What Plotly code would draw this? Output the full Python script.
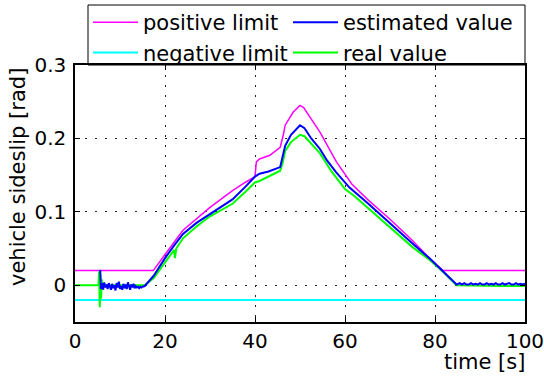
import plotly.graph_objects as go

# ---------------- data ----------------
# real value (green)
real_time = [0, 5.2, 5.35, 5.5, 5.65, 5.8, 5.95, 6.1, 6.3, 6.6,
             7.0, 15.5, 17.5, 20, 22, 22.2, 22.5, 24, 27, 30,
             33, 35, 38, 40, 41, 43, 45.6, 46.2, 46.7, 48,
             50, 51, 52.5, 54.4, 57, 60, 62, 65, 70, 75,
             78.9, 82, 84.8, 90, 95, 100]
real_value = [0, 0, 0.019, -0.030, 0.015, -0.018, 0.008, -0.006, 0.003, -0.001,
              0, 0, 0.010, 0.032, 0.048, 0.037, 0.050, 0.064, 0.080, 0.094,
              0.104, 0.111, 0.128, 0.140, 0.142, 0.148, 0.156, 0.168, 0.183, 0.195,
              0.205, 0.203, 0.193, 0.180, 0.155, 0.131, 0.122, 0.106, 0.078, 0.052,
              0.034, 0.017, 0, -0.001, -0.001, -0.001]

# estimated value (blue): start (noisy), ramp, end (noisy)
est_time_start = [5.6, 5.75, 6.0, 6.25, 6.5, 6.75, 7.0, 7.25, 7.5, 7.75,
                  8.0, 8.25, 8.5, 8.75, 9.0, 9.25, 9.5, 9.75, 10.0, 10.25,
                  10.5, 10.75, 11.0, 11.25, 11.5, 11.75, 12.0, 12.25, 12.5, 12.75,
                  13.0, 13.25, 13.5, 13.75, 14.0, 14.25, 14.5, 14.75, 15.0, 15.5]
est_value_start = [0.021, -0.005, 0.003, -0.006, 0.004, -0.003, 0.001, -0.005, 0.003, -0.002,
                   -0.006, 0.002, -0.004, 0.000, -0.007, 0.003, -0.003, 0.005, -0.005, -0.001,
                   -0.006, 0.002, -0.004, 0.001, -0.005, 0.004, -0.002, -0.006, 0.001, -0.003,
                   0.002, -0.004, -0.001, -0.003, -0.002, -0.004, -0.002, -0.003, -0.002, -0.001]
est_time_ramp = [17.5, 20, 22, 24, 27, 30, 33, 35, 38, 40,
                 41, 43, 45.6, 46.2, 46.7, 48, 50, 51, 52.5, 54.4,
                 56, 58, 60, 61, 65, 70, 75, 78.9, 82, 84.8]
est_value_ramp = [0.013, 0.037, 0.054, 0.070, 0.085, 0.097, 0.108, 0.117, 0.135, 0.148,
                  0.152, 0.155, 0.161, 0.176, 0.190, 0.205, 0.218, 0.214, 0.200, 0.186,
                  0.170, 0.154, 0.140, 0.133, 0.112, 0.084, 0.057, 0.036, 0.018, 0.001]
est_time_end = [85.5, 86, 86.5, 87, 87.5, 88, 88.5, 89, 89.5, 90,
                90.5, 91, 91.5, 92, 92.5, 93, 93.5, 94, 94.5, 95,
                95.5, 96, 96.5, 97, 97.5, 98, 98.5, 99, 99.5, 100]
est_value_end = [0.003, 0.001, 0.003, 0.001, 0.001, 0.003, 0.001, 0.002, 0.001, 0.003,
                 0.001, 0.001, 0.003, 0.001, 0.002, 0.001, 0.003, 0.001, 0.001, 0.003,
                 0.001, 0.002, 0.003, 0.001, 0.001, 0.003, 0.001, 0.002, 0.001, 0.002]

# positive limit (magenta)
pos_time = [0, 17.4, 20, 24, 30, 35, 37.8, 40, 40.3, 41,
            43.3, 45.6, 46.3, 46.7, 48.5, 50, 50.8, 54.4, 58.1, 60.7,
            61.5, 65, 70, 75, 78.9, 81.8, 100]
pos_value = [0.02, 0.02, 0.042, 0.075, 0.106, 0.129, 0.140, 0.148, 0.168, 0.172,
             0.177, 0.188, 0.205, 0.218, 0.236, 0.245, 0.242, 0.209, 0.168, 0.145,
             0.138, 0.117, 0.090, 0.061, 0.036, 0.02, 0.02]

# negative limit (cyan)
neg_time = [0, 100]
neg_value = [-0.02, -0.02]

x_ticks = [0, 20, 40, 60, 80, 100]
y_ticks = [0, 0.1, 0.2, 0.3]
y_tick_labels = ["0", "0.1", "0.2", "0.3"]

est_time = est_time_start + est_time_ramp + est_time_end
est_value = est_value_start + est_value_ramp + est_value_end

# ---------------- figure ----------------
FONT = "DejaVu Sans"
PLOT_L, PLOT_T, PLOT_W, PLOT_H = 75, 65, 450, 257


def px_x(px):
    return (px - PLOT_L) / PLOT_W


def px_y(py):
    return (PLOT_T + PLOT_H - py) / PLOT_H


fig = go.Figure()

fig.add_trace(go.Scatter(x=pos_time, y=pos_value, mode="lines", name="positive limit",
                         line=dict(color="#ff00ff", width=1.5), legend="legend",
                         legendgroup="a", legendrank=1))
fig.add_trace(go.Scatter(x=neg_time, y=neg_value, mode="lines", name="negative limit",
                         line=dict(color="#00ffff", width=2), legend="legend",
                         legendgroup="b", legendrank=2))
fig.add_trace(go.Scatter(x=real_time, y=real_value, mode="lines", name="real value",
                         line=dict(color="#00ff00", width=2), legend="legend2",
                         legendgroup="d", legendrank=2))
fig.add_trace(go.Scatter(x=est_time, y=est_value, mode="lines", name="estimated value",
                         line=dict(color="#0000ff", width=2), legend="legend2",
                         legendgroup="c", legendrank=1))

axis_common = dict(
    showline=True, linecolor="black", linewidth=1.5, mirror="allticks",
    ticks="inside", ticklen=5, tickcolor="black", tickwidth=1,
    showgrid=True, gridcolor="#222222", gridwidth=1.2, griddash="2px,8px",
    zeroline=False, tickfont=dict(family=FONT, size=20, color="black"),
    ticklabeloverflow="allow",
)

fig.update_xaxes(range=[0, 100], tickvals=x_ticks, ticktext=[str(v) for v in x_ticks],
                 ticklabelstandoff=0, **axis_common)
fig.update_yaxes(range=[-0.05, 0.3], tickvals=y_ticks, ticktext=y_tick_labels,
                 ticklabelstandoff=3, **axis_common)

legend_common = dict(
    orientation="v", yanchor="top", xanchor="left",
    itemwidth=45, tracegroupgap=0,
    font=dict(family=FONT, size=21, color="black"),
    bgcolor="rgba(255,255,255,0)", borderwidth=0, traceorder="grouped",
)

fig.update_layout(
    width=544, height=378,
    margin=dict(l=75, r=19, t=65, b=56, autoexpand=False),
    paper_bgcolor="white", plot_bgcolor="white",
    showlegend=True,
    legend=dict(x=px_x(88), y=px_y(2), **legend_common),
    legend2=dict(x=px_x(288), y=px_y(2), **legend_common),
    shapes=[dict(type="rect", xref="paper", yref="paper",
                 x0=px_x(88), x1=px_x(525), y0=px_y(65), y1=px_y(5),
                 line=dict(color="black", width=1), fillcolor="rgba(0,0,0,0)",
                 layer="above")],
    annotations=[
        dict(text="time [s]", xref="paper", yref="paper", x=px_x(527), y=0,
             xanchor="right", yanchor="middle", yshift=-40, showarrow=False,
             font=dict(family=FONT, size=21, color="black")),
        dict(text="vehicle sideslip [rad]", xref="paper", yref="paper", x=0,
             y=px_y(177), xshift=-57, xanchor="center", yanchor="middle",
             textangle=-90, showarrow=False,
             font=dict(family=FONT, size=21, color="black")),
    ],
)

fig.write_html("out.html", config={"displayModeBar": False},
               post_script="document.body.style.margin='0';")
